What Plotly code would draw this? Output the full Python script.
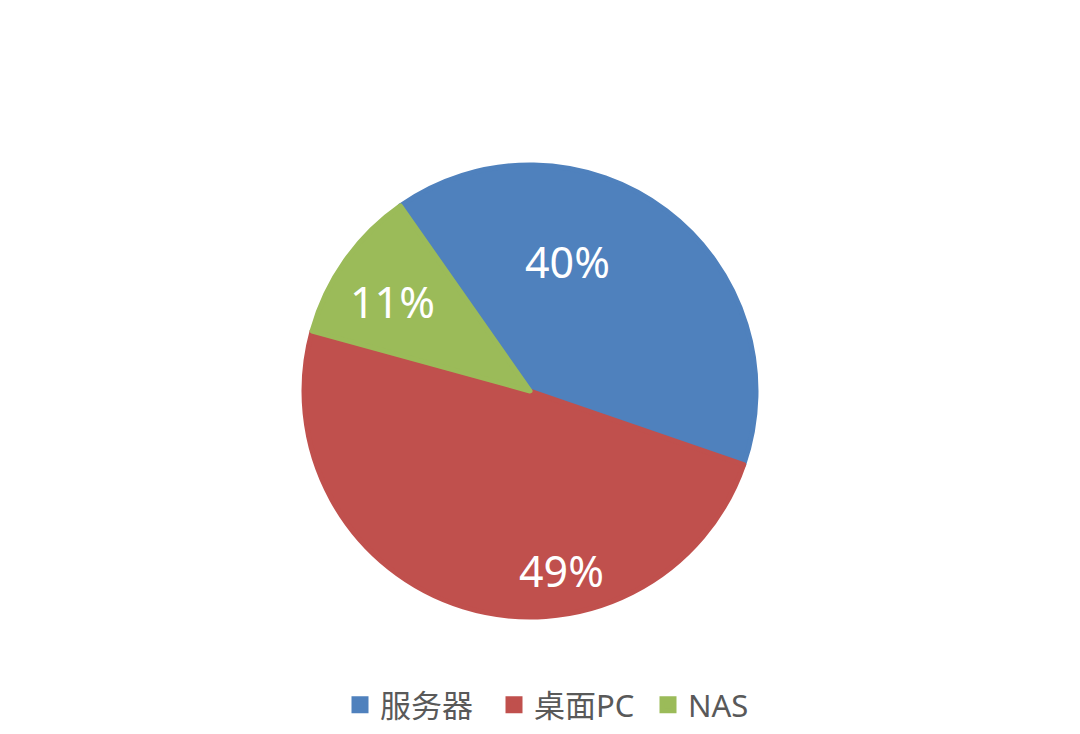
import math
import plotly.graph_objects as go

labels = ["服务器", "桌面PC", "NAS"]
values = [40, 49, 11]
colors = ["#4F81BD", "#C0504D", "#9BBB59"]

W, H = 1080, 734
OFF = 8  # page body margin
cx, cy, r = 530 - OFF, 391 - OFF, 226

# label placement (Excel "best fit"): angle from 12 o'clock clockwise, radius fraction
label_angle = [16, 170, 303]
label_rad = [0.59, 0.80, 0.72]

total = sum(values)
pct_text = [f"{round(v / total * 100)}%" for v in values]

fig = go.Figure(go.Pie(
    labels=labels,
    values=values,
    sort=False,
    direction="clockwise",
    rotation=-35,
    marker=dict(colors=colors, line=dict(color=colors, width=5)),
    textinfo="none",
    domain=dict(x=[(cx - r) / W, (cx + r) / W], y=[1 - (cy + r) / H, 1 - (cy - r) / H]),
    hoverinfo="label+percent",
))

R = r + 2
for txt, a, f in zip(pct_text, label_angle, label_rad):
    px = cx + R * f * math.sin(math.radians(a))
    py = cy - R * f * math.cos(math.radians(a))
    fig.add_annotation(
        x=px / W, y=1 - py / H, xref="paper", yref="paper",
        text=txt, showarrow=False, xanchor="center", yanchor="middle",
        font=dict(color="white", size=43, family="Noto Sans, Open Sans, sans-serif"),
    )

fig.update_layout(
    width=W, height=H,
    margin=dict(l=0, r=0, t=0, b=0),
    paper_bgcolor="white",
    plot_bgcolor="white",
    showlegend=True,
    legend=dict(
        orientation="h",
        x=(340 - OFF) / W, xanchor="left",
        y=1 - (705 - OFF) / H, yanchor="middle",
        font=dict(size=31, color="#595959", family="Noto Sans, Noto Sans CJK SC, sans-serif"),
        itemwidth=30,
        entrywidth=109,
        entrywidthmode="pixels",
        traceorder="normal",
    ),
)

fig.write_html("out.html")
